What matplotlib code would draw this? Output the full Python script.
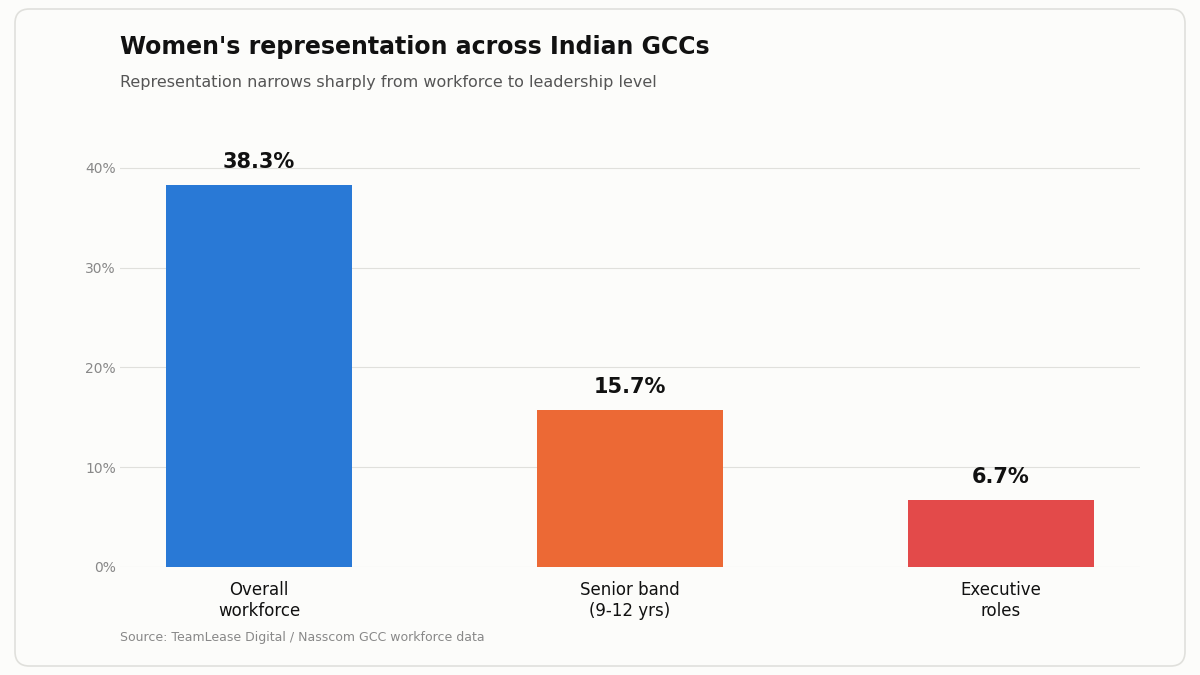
import matplotlib
matplotlib.use("Agg")
import matplotlib.pyplot as plt
from matplotlib.patches import FancyBboxPatch
from matplotlib.ticker import FuncFormatter

categories = ["Overall\nworkforce", "Senior band\n(9-12 yrs)", "Executive\nroles"]
values = [38.3, 15.7, 6.7]
colors = ["#2979D6", "#EC6935", "#E34A4A"]
y_ticks = [0, 10, 20, 30, 40]

fig = plt.figure(figsize=(12, 6.75), dpi=100)
fig.patch.set_facecolor("#FCFCFA")

# rounded card border, kept behind the axes
card = FancyBboxPatch(
    (15 / 1200, 9 / 675), 1170 / 1200, 657 / 675,
    boxstyle="round,pad=0,rounding_size=0.012",
    transform=fig.transFigure, facecolor="#FCFCFA", edgecolor="#E0E0DC",
    linewidth=1.2, mutation_aspect=1200 / 675, zorder=-10,
)
fig.patches.append(card)

ax = fig.add_axes([120 / 1200, 108 / 675, 1020 / 1200, 424 / 675])
ax.set_facecolor("none")

x = list(range(len(categories)))
ax.bar(x, values, width=0.5, color=colors, zorder=3)
for xi, v in zip(x, values):
    ax.text(xi, v + 1.3, f"{v:.1f}%", ha="center", va="bottom",
            fontsize=15, fontweight="bold", color="#111111")

ax.set_xlim(-0.375, 2.375)
ax.set_ylim(0, 42.5)
ax.set_yticks(y_ticks)
ax.yaxis.set_major_formatter(FuncFormatter(lambda v, _: f"{v:.0f}%"))
ax.set_xticks(x)
ax.set_xticklabels(categories, fontsize=12, color="#111111")
ax.tick_params(axis="y", labelsize=10, labelcolor="#888888", length=0, pad=3)
ax.tick_params(axis="x", length=0, pad=10)
ax.grid(axis="y", color="#E0E0DC", linewidth=0.8, zorder=0)
for s in ax.spines.values():
    s.set_visible(False)

fig.text(120 / 1200, 1 - 47 / 675, "Women's representation across Indian GCCs",
         fontsize=17, fontweight="bold", color="#111111", va="center", ha="left")
fig.text(120 / 1200, 1 - 83 / 675,
         "Representation narrows sharply from workforce to leadership level",
         fontsize=11.5, color="#555555", va="center", ha="left")
fig.text(120 / 1200, 1 - 637 / 675, "Source: TeamLease Digital / Nasscom GCC workforce data",
         fontsize=9, color="#888888", va="center", ha="left")

fig.savefig("out.png", dpi=100, facecolor=fig.get_facecolor())
